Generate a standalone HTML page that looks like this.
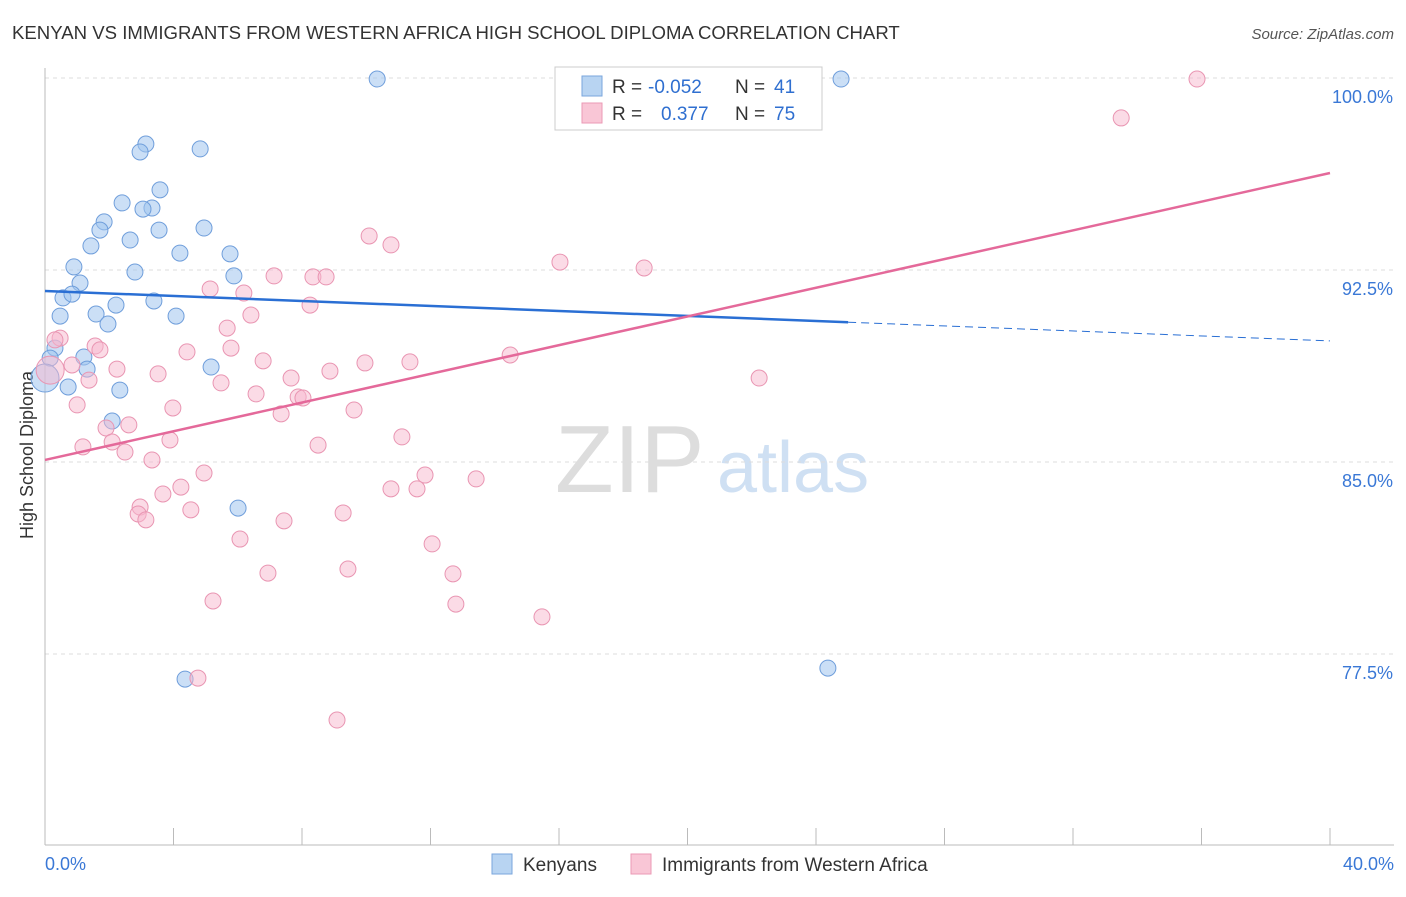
<!DOCTYPE html>
<html><head><meta charset="utf-8"><style>
body{margin:0;background:#fff;font-family:"Liberation Sans",sans-serif;}
svg text{font-family:"Liberation Sans",sans-serif;}
</style></head><body>
<svg id="c" width="1406" height="892">
<text x="12" y="39" font-size="18.6" fill="#333">KENYAN VS IMMIGRANTS FROM WESTERN AFRICA HIGH SCHOOL DIPLOMA CORRELATION CHART</text>
<text x="1394" y="39" font-size="15" fill="#555" font-style="italic" text-anchor="end">Source: ZipAtlas.com</text>
<text x="33" y="455" font-size="18" fill="#333" text-anchor="middle" transform="rotate(-90 33 455)">High School Diploma</text>
<text x="555" y="492" font-size="96" fill="#ddd" font-family="Liberation Serif">ZIP</text>
<text x="717" y="492" font-size="72" fill="#cfe0f3">atlas</text>
<g id="grid"></g><g id="marks"></g>
<g>
<rect x="555" y="67" width="267" height="63" fill="#fff" stroke="#ccc"/>
<rect x="582" y="76" width="20" height="20" fill="#b8d4f2" stroke="#7aa6dc"/>
<rect x="582" y="103" width="20" height="20" fill="#f9c6d6" stroke="#eb9ab5"/>
<text x="612" y="93" font-size="19" fill="#333">R =</text>
<text x="648" y="93" font-size="19" fill="#2f6fd0">-0.052</text>
<text x="735" y="93" font-size="19" fill="#333">N =</text>
<text x="774" y="93" font-size="19" fill="#2f6fd0">41</text>
<text x="612" y="120" font-size="19" fill="#333">R =</text>
<text x="661" y="120" font-size="19" fill="#2f6fd0">0.377</text>
<text x="735" y="120" font-size="19" fill="#333">N =</text>
<text x="774" y="120" font-size="19" fill="#2f6fd0">75</text>
</g>
<g>
<rect x="492" y="854" width="20" height="20" fill="#b8d4f2" stroke="#7aa6dc"/>
<text x="523" y="871" font-size="19" fill="#333">Kenyans</text>
<rect x="631" y="854" width="20" height="20" fill="#f9c6d6" stroke="#eb9ab5"/>
<text x="662" y="871" font-size="19" fill="#333">Immigrants from Western Africa</text>
</g>
</svg>
<script>
const xTicks=[4,8,12,16,20,24,28,32,36,40];
const yTicks=[77.5,85,92.5,100];
const blueX=[10.34,24.78,3.14,2.96,4.83,3.58,2.40,3.33,3.05,1.84,1.71,3.55,4.95,2.65,1.43,4.20,5.76,0.90,2.80,5.88,1.09,0.56,0.84,2.21,3.39,0.47,1.59,4.08,1.96,0.31,1.21,0.16,1.31,5.17,0.72,2.33,2.09,6.01,4.36,24.37,0];
const blueY=[99.96,99.96,97.42,97.11,97.23,95.63,95.12,94.92,94.88,94.38,94.06,94.06,94.14,93.67,93.44,93.16,93.13,92.62,92.42,92.27,91.99,91.41,91.56,91.13,91.29,90.70,90.78,90.70,90.39,89.45,89.10,89.06,88.63,88.71,87.93,87.81,86.60,83.20,76.52,76.95,88.28];
const pinkX=[16.50,35.86,33.50,10.09,10.77,16.03,18.65,7.13,8.34,8.75,5.14,6.19,8.25,6.41,5.67,0.47,1.56,5.79,1.71,4.42,6.79,9.96,11.36,14.48,0.84,2.24,3.52,8.87,7.66,1.37,22.23,5.48,6.57,7.88,8.03,1.00,3.98,9.62,7.35,2.61,1.90,11.11,3.89,1.18,2.09,2.49,8.50,3.33,11.83,13.42,4.95,4.23,10.77,11.58,3.67,2.96,4.54,2.90,9.28,3.14,7.44,6.07,12.05,6.94,9.43,12.70,5.23,12.79,15.47,4.76,9.09,0.16,0.31];
const pinkY=[99.96,99.96,98.44,93.83,93.48,92.81,92.58,92.27,92.23,92.23,91.76,91.60,91.13,90.74,90.23,89.84,89.53,89.45,89.38,89.30,88.95,88.87,88.91,89.18,88.79,88.63,88.44,88.55,88.28,88.20,88.28,88.09,87.66,87.54,87.50,87.23,87.11,87.03,86.88,86.45,86.33,85.98,85.86,85.59,85.78,85.39,85.66,85.08,84.49,84.34,84.57,84.02,83.95,83.95,83.75,83.24,83.13,82.97,83.01,82.74,82.70,81.99,81.80,80.66,80.82,80.63,79.57,79.45,78.95,76.56,74.92,88.59,89.77];
const blueTrend=[91.68,89.73];
const pinkTrend=[85.08,96.29];
const NS='http://www.w3.org/2000/svg';
const X=v=>45+v/40*1285;
const Y=v=>78+(100-v)/7.5*192;
function mk(t,a,p){const e=document.createElementNS(NS,t);for(const k in a)e.setAttribute(k,a[k]);p.appendChild(e);return e;}
const g=document.getElementById('grid'),m=document.getElementById('marks');
yTicks.forEach(v=>{
 const l=mk('line',{x1:45,x2:1394,y1:Y(v),y2:Y(v),stroke:'#ddd','stroke-dasharray':'4 4'},g);
 
 
 const t=mk('text',{x:1393,y:Y(v)+25,'font-size':18,fill:'#3a78d6','text-anchor':'end'},g);t.textContent=v.toFixed(1)+'%';
 
 
});
mk('line',{x1:45,x2:45,y1:68,y2:845,stroke:'#bbb'},g);
mk('line',{x1:45,x2:1394,y1:845,y2:845,stroke:'#bbb'},g);
xTicks.forEach(v=>{
 const l=mk('line',{x1:X(v),x2:X(v),y1:828,y2:845,stroke:'#bbb'},g);
 
 
});
[[0,'0.0%','start',45],[40,'40.0%','end',1394]].forEach(a=>{
 const t=mk('text',{x:a[3],y:870,'font-size':18,fill:'#3a78d6','text-anchor':a[2]},g);t.textContent=a[1];
 
 
});
blueX.forEach((x,i)=>{
 const big=(x===0);
 const c=mk('circle',{cx:X(x),cy:Y(blueY[i]),r:big?14:8,fill:'rgba(160,196,238,0.55)',stroke:'#6f9edb','stroke-width':1},m);
 
 
});
pinkX.forEach((x,i)=>{
 const big=(i===71);
 const c=mk('circle',{cx:X(x),cy:Y(pinkY[i]),r:big?14:8,fill:'rgba(247,184,205,0.5)',stroke:'#e995b2','stroke-width':1},m);
 
 
});
const bMid=blueTrend[0]+(blueTrend[1]-blueTrend[0])*(25/40);
let l=mk('line',{x1:X(0),y1:Y(blueTrend[0]),x2:X(25),y2:Y(bMid),stroke:'#2a6fd4','stroke-width':2.5},m);


l=mk('line',{x1:X(25),y1:Y(bMid),x2:X(40),y2:Y(blueTrend[1]),stroke:'#2a6fd4','stroke-width':1,'stroke-dasharray':'8 5'},m);


l=mk('line',{x1:X(0),y1:Y(pinkTrend[0]),x2:X(40),y2:Y(pinkTrend[1]),stroke:'#e4699a','stroke-width':2.5},m);


</script>
</body></html>
